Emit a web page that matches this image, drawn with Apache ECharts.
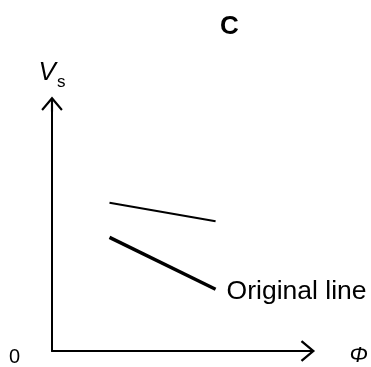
<!DOCTYPE html>
<html style="height: 100%">
<head>
    <meta charset="utf-8">
    <title>C</title>
    <script src="https://cdn.jsdelivr.net/npm/echarts/dist/echarts.min.js"></script>
</head>
<body style="height: 100%; margin: 0; background: #fff">
    <div id="main" style="width: 371px; height: 367px"></div>
    <script type="text/javascript">
        // data (arbitrary units, axes 0..10)
        var newLineX = [2.25, 6.4];
        var newLineY = [6.0, 5.25];
        var origLineX = [2.25, 6.4];
        var origLineY = [4.6, 2.5];
        var origLabel = 'Original line';
        var xName = 'Φ';
        var yName = ['V', 's'];

        var font = 'Liberation Sans, Arial, sans-serif';
        // open chevron with a short shaft, pointing up
        var arrowPath = 'path://M10,0 L20,12 L18.5,13.4 L11,4.4 L11,14 L9,14 L9,4.4 L1.5,13.4 L0,12 Z';

        function pairs(xs, ys) {
            return xs.map(function (x, i) { return [x, ys[i]]; });
        }

        var myChart = echarts.init(document.getElementById('main'));

        var option = {
            animation: false,
            title: {
                text: 'C',
                left: 215,
                top: 9,
                textStyle: { fontFamily: font, fontSize: 26, fontWeight: 'bold', color: '#000' }
            },
            grid: { left: 52, right: 62, top: 104, bottom: 14, containLabel: false },
            xAxis: {
                type: 'value',
                min: 0,
                max: 10,
                splitLine: { show: false },
                axisTick: { show: false },
                axisLabel: { show: false },
                axisLine: {
                    onZero: false,
                    symbol: ['none', arrowPath],
                    symbolSize: [22, 15],
                    lineStyle: { color: '#000', width: 2 }
                },
                name: xName,
                nameLocation: 'end',
                nameGap: 42,
                nameTextStyle: {
                    fontFamily: font, fontSize: 22, fontStyle: 'italic', color: '#000',
                    verticalAlign: 'top', lineHeight: 10
                }
            },
            yAxis: {
                type: 'value',
                min: 0,
                max: 10,
                interval: 10,
                splitLine: { show: false },
                axisTick: { show: false },
                axisLabel: {
                    margin: 32,
                    fontFamily: font,
                    fontSize: 20,
                    color: '#000',
                    verticalAlign: 'top',
                    lineHeight: 12,
                    formatter: function (v) { return v === 0 ? '0' : ''; }
                },
                axisLine: {
                    onZero: false,
                    symbol: ['none', arrowPath],
                    symbolSize: [22, 15],
                    lineStyle: { color: '#000', width: 2 }
                },
                name: '{v|' + yName[0] + '}{s|' + yName[1] + '}',
                nameLocation: 'end',
                nameGap: 14,
                nameTextStyle: {
                    rich: {
                        v: { fontFamily: font, fontSize: 26, fontStyle: 'italic', color: '#000', lineHeight: 34 },
                        s: { fontFamily: font, fontSize: 17, color: '#000', lineHeight: 17, padding: [18, 0, 0, 1] }
                    }
                }
            },
            series: [
                {
                    type: 'line',
                    data: pairs(newLineX, newLineY),
                    symbol: 'none',
                    lineStyle: { color: '#000', width: 2 }
                },
                {
                    type: 'line',
                    data: pairs(origLineX, origLineY),
                    symbol: 'none',
                    lineStyle: { color: '#000', width: 3.5 },
                    endLabel: {
                        show: true,
                        formatter: origLabel,
                        distance: 11,
                        fontFamily: font,
                        fontSize: 26.5,
                        color: '#000',
                        offset: [0, 2]
                    }
                }
            ]
        };

        myChart.setOption(option);
    </script>
</body>
</html>
